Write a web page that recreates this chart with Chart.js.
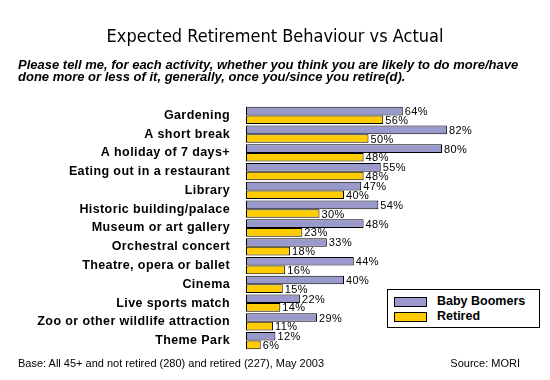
<!DOCTYPE html>
<html>
<head>
<meta charset="utf-8">
<script src="https://cdn.jsdelivr.net/npm/chart.js@4"></script>
<style>
  body { margin: 0; background: #fff; }
  #wrap { position: relative; width: 550px; height: 380px; overflow: hidden; font-family: "Liberation Sans", Arial, sans-serif; }
  #chart { position: absolute; left: 0; top: 0; }
  .title { position: absolute; left: 0; width: 550px; top: 25px; text-align: center; font-family: "DejaVu Sans Condensed", "DejaVu Sans", sans-serif; font-size: 18px; }
  .sub { position: absolute; left: 18px; top: 59px; width: 532px; font-size: 13px; font-weight: bold; font-style: italic; line-height: 12px; white-space: nowrap; }
  .foot { position: absolute; top: 357px; font-size: 11px; }
  #legend { position: absolute; left: 387px; top: 289px; width: 151px; height: 37px; border: 1px solid #000; background: #fff; }
  .item { position: absolute; left: 6px; font-size: 12.5px; font-weight: bold; }
  .sw { display: inline-block; width: 31px; height: 8px; border: 1px solid #000; vertical-align: middle; margin-right: 10px; }
</style>
</head>
<body>
<div id="wrap">
  <canvas id="chart" width="550" height="380"></canvas>
  <div class="title">Expected Retirement Behaviour vs Actual</div>
  <div class="sub">Please tell me, for each activity, whether you think you are likely to do more/have<br>done more or less of it, generally, once you/since you retire(d).</div>
  <div id="legend">
    <div class="item" style="top:4px"><span class="sw" style="background:#9999CC"></span>Baby Boomers</div>
    <div class="item" style="top:19px"><span class="sw" style="background:#FFCC00"></span>Retired</div>
  </div>
  <div class="foot" style="left:18px">Base: All 45+ and not retired (280) and retired (227), May 2003</div>
  <div class="foot" style="right:30px">Source: MORI</div>
</div>
<script>
const activities = ['Gardening', 'A short break', 'A holiday of 7 days+', 'Eating out in a restaurant', 'Library',
  'Historic building/palace', 'Museum or art gallery', 'Orchestral concert', 'Theatre, opera or ballet',
  'Cinema', 'Live sports match', 'Zoo or other wildlife attraction', 'Theme Park'];
const babyBoomers = [64, 82, 80, 55, 47, 54, 48, 33, 44, 40, 22, 29, 12];
const retired = [56, 50, 48, 48, 40, 30, 23, 18, 16, 15, 14, 11, 6];

// the old chart's text is a bit spaced out
const spacing = {
  id: 'spacing',
  beforeDraw(chart) { chart.ctx.letterSpacing = '0.4px'; }
};

// value labels after each bar
const valueLabels = {
  id: 'valueLabels',
  afterDatasetsDraw(chart) {
    const ctx = chart.ctx;
    ctx.save();
    ctx.font = '11px "Liberation Sans", Arial, sans-serif';
    ctx.fillStyle = '#000';
    ctx.textBaseline = 'middle';
    chart.data.datasets.forEach((ds, i) => {
      chart.getDatasetMeta(i).data.forEach((bar, j) => {
        ctx.fillText(ds.data[j] + '%', bar.x + 2, bar.y + 1);
      });
    });
    ctx.restore();
  }
};

new Chart(document.getElementById('chart'), {
  type: 'bar',
  data: {
    labels: activities,
    datasets: [
      { label: 'Baby Boomers', data: babyBoomers, backgroundColor: '#9999CC', borderColor: '#000', borderWidth: 1, borderSkipped: false },
      { label: 'Retired', data: retired, backgroundColor: '#FFCC00', borderColor: '#000', borderWidth: 1, borderSkipped: false }
    ]
  },
  options: {
    indexAxis: 'y',
    responsive: false,
    animation: false,
    layout: { padding: { top: 106, bottom: 30, left: 0, right: 59 } },
    datasets: { bar: { categoryPercentage: 0.92, barPercentage: 1 } },
    plugins: { legend: { display: false }, tooltip: { enabled: false } },
    scales: {
      x: { display: false, min: 0, max: 100 },
      y: {
        afterFit: (scale) => { scale.width = 246; },
        grid: { display: false },
        border: { display: false },
        ticks: { color: '#000', padding: 8, font: { family: '"Liberation Sans", Arial, sans-serif', size: 12.5, weight: 'bold' } }
      }
    }
  },
  plugins: [spacing, valueLabels]
});
</script>
</body>
</html>
